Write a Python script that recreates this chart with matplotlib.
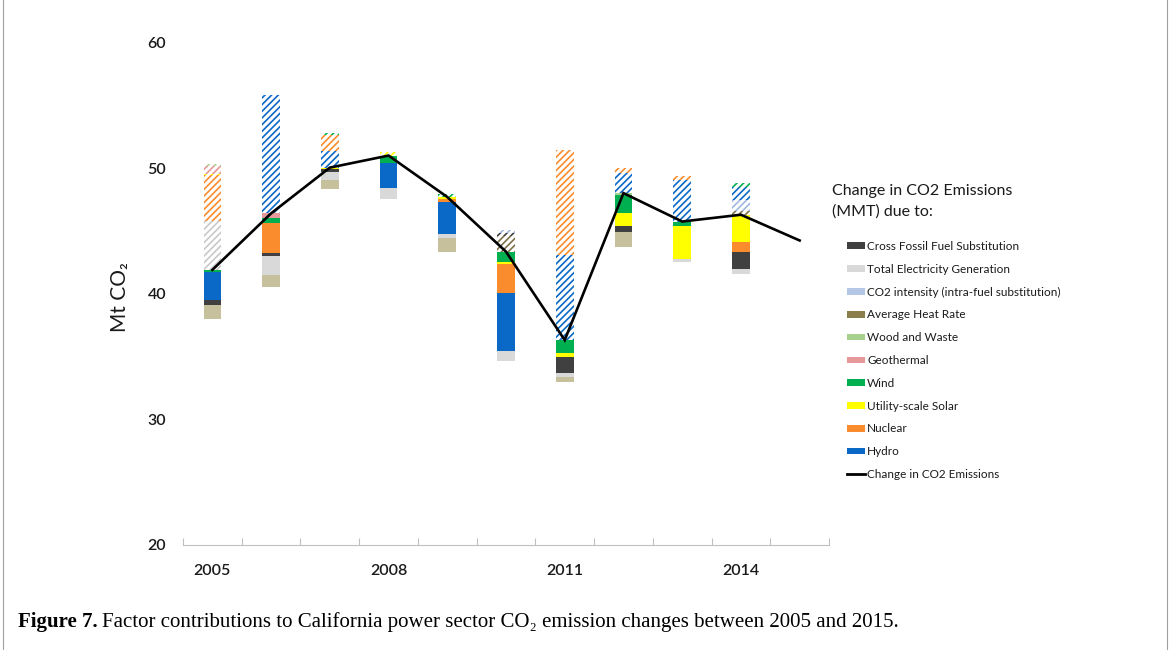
import numpy as np
import matplotlib
matplotlib.use("Agg")
import matplotlib.pyplot as plt
from matplotlib.patches import Patch
from matplotlib.lines import Line2D

# ---- data (Mt CO2) ----
years = [2005, 2006, 2007, 2008, 2009, 2010, 2011, 2012, 2013, 2014, 2015]
emissions = [41.9, 46.4, 50.04, 51.0, 47.7, 43.35, 36.31, 48.01, 45.75, 46.29, 44.24]

# year-on-year factor contributions, one value per year 2005..2014
cross_fossil = [-0.43, -0.26, -0.20, 0.0, 0.0, 0.20, -1.32, -0.47, 0.0, -1.32]
total_generation = [3.93, -1.54, -0.67, -0.85, -0.34, -0.80, -0.27, 0.0, -0.18, -0.40]
co2_intensity = [0.0, 0.0, 0.0, 0.0, 0.0, 0.25, 0.0, 0.0, 0.0, 0.88]
heat_rate = [-1.11, -0.91, -0.72, 0.0, -1.13, 1.25, -0.45, -1.20, 0.0, 0.26]
wood_waste = [0.16, 0.0, 0.0, 0.0, 0.0, 0.0, 0.0, -0.18, 0.0, 0.0]
geothermal = [0.64, -0.40, 0.0, 0.0, 0.0, 0.0, 0.0, 0.0, 0.0, 0.0]
wind = [-0.14, -0.40, 0.13, -0.60, 0.25, -0.85, -1.06, -1.41, -0.36, 0.35]
solar = [0.13, 0.0, -0.13, 0.25, -0.14, -0.11, -0.27, -1.05, -2.65, -2.19]
nuclear = [3.60, -2.32, 1.33, 0.0, -0.27, -2.31, 8.32, 0.43, 0.37, -0.80]
hydro = [-2.23, 9.40, 1.30, -2.00, -2.52, -4.63, 6.80, 1.60, 3.29, 1.06]

legend_labels = [
    "Cross Fossil Fuel Substitution",
    "Total Electricity Generation",
    "CO2 intensity (intra-fuel substitution)",
    "Average Heat Rate",
    "Wood and Waste",
    "Geothermal",
    "Wind",
    "Utility-scale Solar",
    "Nuclear",
    "Hydro",
]
line_label = "Change in CO2 Emissions"

contrib = {
    "cross": cross_fossil, "teg": total_generation, "co2i": co2_intensity,
    "ahr": heat_rate, "wood": wood_waste, "geo": geothermal, "wind": wind,
    "solar": solar, "nuc": nuclear, "hydro": hydro,
}
keys = ["cross", "teg", "co2i", "ahr", "wood", "geo", "wind", "solar", "nuc", "hydro"]

# ---- styling ----
solid_col = {"cross": "#404040", "teg": "#d9d9d9", "co2i": "#b4c7e7", "ahr": "#c6c19c",
             "wood": "#a9d18e", "geo": "#e6989a", "wind": "#00b050", "solar": "#ffff00",
             "nuc": "#fb8c2d", "hydro": "#0a69c6"}
hatch_col = dict(solid_col)
hatch_col.update({"teg": "#c9c9c9", "co2i": "#9fb8e0", "ahr": "#7d7148"})
legend_col = dict(solid_col)
legend_col["ahr"] = "#8c7e4c"

# stacking order moving away from the line: decreases go down, increases go up
neg_order = ["wood", "geo", "wind", "solar", "nuc", "hydro", "co2i", "cross", "teg", "ahr"]
pos_order = neg_order[::-1]

FONT = ["Lato", "DejaVu Sans"]
plt.rcParams["font.family"] = FONT
plt.rcParams["hatch.linewidth"] = 1.2

W, H = 1171, 650
fig = plt.figure(figsize=(W / 100, H / 100), dpi=100)
ax = fig.add_axes([183 / W, 1 - 545 / H, (829 - 183) / W, (545 - 42.5) / H])

x = np.arange(len(years))
bw = 0.3
for i in range(len(years) - 1):
    cur = emissions[i]
    for k in neg_order:
        v = contrib[k][i]
        if v < 0:
            ax.bar(x[i], v, bottom=cur, width=bw, color=solid_col[k], linewidth=0, zorder=2)
            cur += v
    cur = emissions[i]
    for k in pos_order:
        v = contrib[k][i]
        if v > 0:
            ax.bar(x[i], v, bottom=cur, width=bw, facecolor="white",
                   edgecolor=hatch_col[k], hatch="/////", linewidth=0, zorder=2)
            cur += v

ax.plot(x, emissions, color="black", lw=1.9, zorder=4, solid_joinstyle="miter")

ax.set_xlim(-0.5, len(years) - 0.5)
ax.set_ylim(20, 60)
ax.set_yticks([20, 30, 40, 50, 60])
ax.tick_params(axis="y", length=0, pad=12, labelsize=11.5, labelcolor="#1a1a1a")

ax.set_xticks(np.arange(-0.5, len(years), 1))
ax.set_xticklabels([])
ax.tick_params(axis="x", which="major", direction="in", length=5, color="#bfbfbf", width=0.8)
lab_idx = [0, 3, 6, 9]
ax.set_xticks(lab_idx, minor=True)
ax.set_xticklabels([str(years[j]) for j in lab_idx], minor=True)
ax.tick_params(axis="x", which="minor", length=0, pad=14, labelsize=11.5, labelcolor="#1a1a1a")
for lab in ax.get_yticklabels() + ax.get_xticklabels(minor=True):
    lab.set_fontweight("semibold")

for s in ["top", "right", "left"]:
    ax.spines[s].set_visible(False)
ax.spines["bottom"].set_color("#bfbfbf")
ax.spines["bottom"].set_linewidth(0.8)

fig.text(120 / W, 1 - 297 / H, "Mt CO\u2082", rotation=90, ha="center", va="center",
         fontsize=15, color="#1a1a1a", family=FONT)

# legend
fig.text(832 / W, 1 - 184 / H, "Change in CO2 Emissions\n(MMT) due to:", ha="left", va="top",
         fontsize=11.5, color="#1a1a1a", linespacing=1.55)
handles = [Patch(facecolor=legend_col[k], edgecolor="none") for k in keys]
handles.append(Line2D([0], [0], color="black", lw=2))
fig.legend(handles, legend_labels + [line_label], loc="upper left",
           bbox_to_anchor=(847 / W, 1 - 241 / H), frameon=False,
           prop={"family": FONT, "size": 8.5}, handlelength=1.55, handleheight=0.5,
           handletextpad=0.15, labelspacing=1.0, borderpad=0, borderaxespad=0,
           labelcolor="#1a1a1a")

# page frame and caption
for xp in (3, 1167):
    fig.add_artist(Line2D([xp / W, xp / W], [0, 1], color="#a0a0a0", lw=0.8))

cap_y = 1 - 622 / H
t1 = fig.text(18 / W, cap_y, "Figure 7.", ha="left", va="center", fontsize=15,
              weight="bold", family=["Liberation Serif", "DejaVu Serif"])
fig.canvas.draw()
bb = t1.get_window_extent()
fig.text(bb.x1 / W + 4 / W, cap_y,
         "Factor contributions to California power sector CO\u2082 emission changes between 2005 and 2015.",
         ha="left", va="center", fontsize=15, family=["Liberation Serif", "DejaVu Serif"])

fig.savefig("out.png", dpi=100)
